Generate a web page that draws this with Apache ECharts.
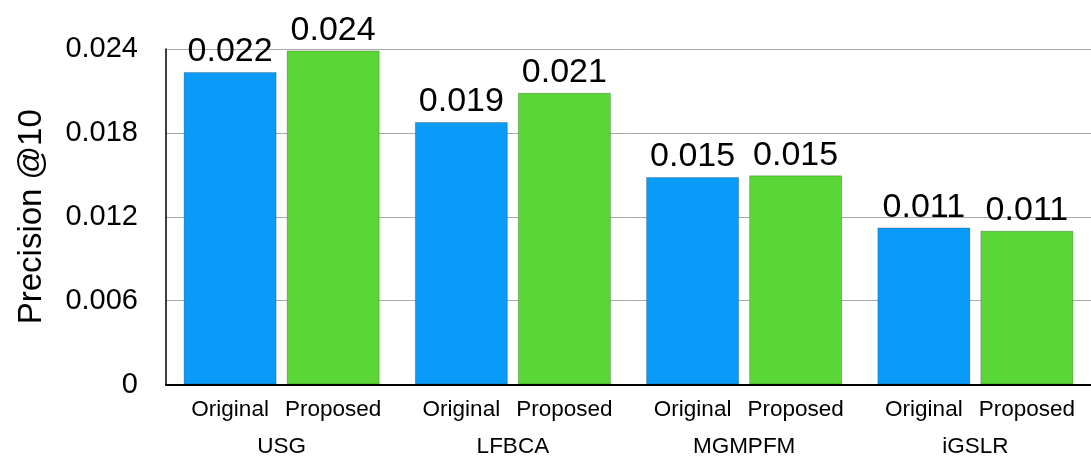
<!DOCTYPE html>
<html>
<head>
<meta charset="utf-8">
<script src="https://cdn.jsdelivr.net/npm/echarts@6/dist/echarts.min.js"></script>
<style>
  html, body { margin: 0; padding: 0; background: #fff; }
  #chart { width: 1091px; height: 458px; }
</style>
</head>
<body>
<div id="chart"></div>
<script>
// Precision@10 of each recommender, original vs. proposed variant
const methods = ['USG', 'LFBCA', 'MGMPFM', 'iGSLR'];
const variants = ['Original', 'Proposed'];
const originalValues = [0.02236, 0.01878, 0.01484, 0.01123];
const proposedValues = [0.0239, 0.02087, 0.01496, 0.0110];
const yTicks = { min: 0, max: 0.024, step: 0.006 };

const FONT = '"Liberation Sans", Arial, Helvetica, sans-serif';
const colors = ['#0A9BF9', '#5BD637'];

const chart = echarts.init(document.getElementById('chart'), null, { renderer: 'canvas' });

function barSeries(name, values, color) {
  return {
    name: name,
    type: 'bar',
    data: values,
    barWidth: 93,
    barGap: '10.8%',
    itemStyle: { color: color, borderColor: 'rgba(0,0,0,0.22)', borderWidth: 1 },
    label: {
      show: true,
      position: 'top',
      distance: 3,
      color: '#000',
      fontFamily: FONT,
      fontSize: 34,
      formatter: p => p.value.toFixed(3)
    },
    emphasis: { disabled: true }
  };
}

chart.setOption({
  animation: false,
  backgroundColor: '#fff',
  grid: { left: 166, top: 49, width: 929, height: 337, containLabel: false },
  xAxis: {
    type: 'category',
    data: methods,
    axisLine: { show: true, lineStyle: { color: '#000', width: 2 } },
    axisTick: { show: false },
    splitLine: { show: false },
    axisLabel: {
      margin: 8,
      interval: 0,
      formatter: v => '{a|' + variants[0] + '}{b|' + variants[1] + '}\n{c|' + v + '}',
      rich: {
        a: { width: 103, align: 'center', fontSize: 22.5, lineHeight: 34, fontFamily: FONT, color: '#000' },
        b: { width: 103, align: 'center', fontSize: 22.5, lineHeight: 34, fontFamily: FONT, color: '#000' },
        c: { align: 'center', fontSize: 22.5, lineHeight: 40, fontFamily: FONT, color: '#000' }
      }
    }
  },
  yAxis: {
    type: 'value',
    min: yTicks.min,
    max: yTicks.max,
    interval: yTicks.step,
    name: 'Precision @10',
    nameLocation: 'middle',
    nameGap: 118,
    nameTextStyle: { fontSize: 33, fontFamily: FONT, color: '#000' },
    axisLine: { show: true, lineStyle: { color: '#000', width: 1.5 } },
    axisTick: { show: false },
    axisLabel: { margin: 28, fontSize: 29, fontFamily: FONT, color: '#000' },
    splitLine: { show: true, lineStyle: { color: '#ababab', width: 1 } }
  },
  series: [
    barSeries(variants[0], originalValues, colors[0]),
    barSeries(variants[1], proposedValues, colors[1])
  ]
});
</script>
</body>
</html>
